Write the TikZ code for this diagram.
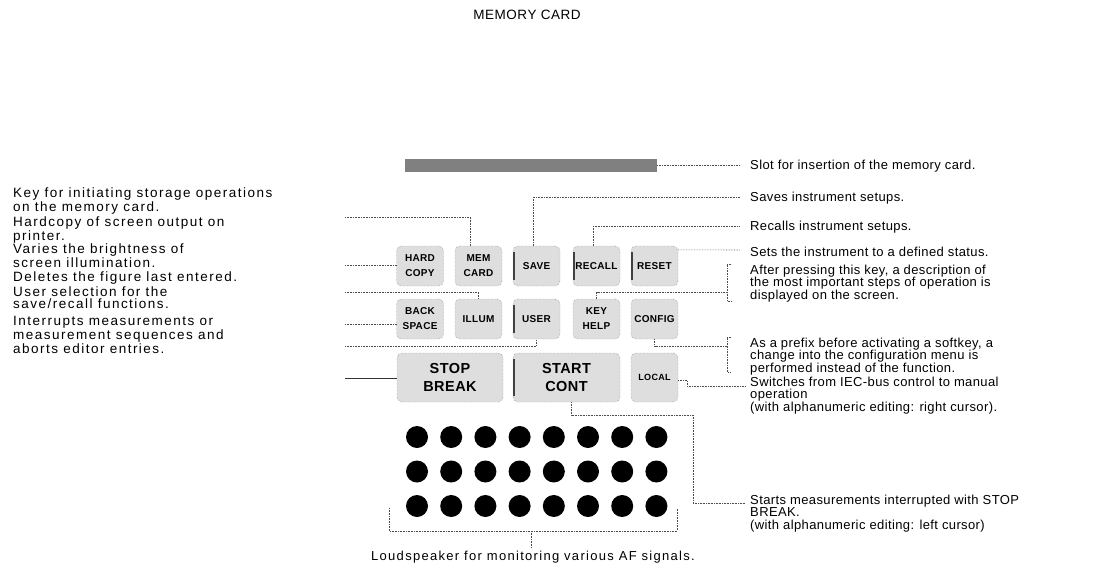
\documentclass[tikz,border=0pt]{standalone}
\usepackage{fontspec}
\setmainfont{Liberation Sans}
\newfontfamily\lfont[LetterSpace=11]{Liberation Sans}
\newfontfamily\sfont[LetterSpace=10]{Liberation Sans}
\newfontfamily\rfont[LetterSpace=3]{Liberation Sans}
\newfontfamily\kfont[LetterSpace=3]{Liberation Sans}
\newfontfamily\tfont[LetterSpace=4]{Liberation Sans}
\usetikzlibrary{calc}
\begin{document}
\begin{tikzpicture}[x=1pt,y=-1pt,
  lefttxt/.style={anchor=north west,inner sep=0pt,align=left,font=\fontsize{13.5}{12.5}\selectfont\lfont},
  righttxt/.style={anchor=north west,inner sep=0pt,align=left,font=\fontsize{13}{12.5}\selectfont\rfont},
  keybox/.style={draw=black!55,densely dotted,fill=black!13,rounded corners=5pt,minimum width=47pt,minimum height=40pt,inner sep=0pt,align=center,font=\fontsize{10}{15}\selectfont\kfont\bfseries,text=black},
  bigkey/.style={keybox,minimum height=49pt,font=\fontsize{14.5}{17.5}\selectfont\kfont\bfseries},
  edgekey/.style={path picture={\draw[black!75,solid,line width=1.3pt] ([xshift=1pt,yshift=6pt]path picture bounding box.south west) -- ([xshift=1pt,yshift=-6pt]path picture bounding box.north west);}},
  conn/.style={draw=black!70,densely dotted,line width=0.6pt},
  solidconn/.style={draw=black!80,line width=0.6pt},
  spk/.style={circle,fill=black,inner sep=0pt,minimum size=22pt}
]
\useasboundingbox (0,0) rectangle (1096,576);

% title
\node[font=\fontsize{13.5}{15}\selectfont\tfont] (title) at (527,15) {MEMORY CARD};

% memory card slot
\node[fill=black!50,inner sep=0pt,minimum width=252pt,minimum height=13pt] (slot) at (531,165) {};

% keys
\node[keybox] (hard) at (420,266) {HARD\\COPY};
\node[keybox] (mem) at (478.5,266) {MEM\\CARD};
\node[keybox,edgekey] (save) at (536.5,266) {SAVE};
\node[keybox,edgekey] (recall) at (596.5,266) {RECALL};
\node[keybox,edgekey] (reset) at (654.5,266) {RESET};
\node[keybox] (back) at (420,319) {BACK\\SPACE};
\node[keybox] (illum) at (478.5,319) {ILLUM};
\node[keybox,edgekey] (user) at (536.5,319) {USER};
\node[keybox] (keyhelp) at (596.5,319) {KEY\\HELP};
\node[keybox] (config) at (654.5,319) {CONFIG};
\node[bigkey,minimum width=106pt] (stop) at (450,377.5) {STOP\\BREAK};
\node[bigkey,edgekey,minimum width=107pt] (start) at (566.5,377.5) {START\\CONT};
\node[keybox,minimum height=49pt,font=\fontsize{9}{12}\selectfont\kfont\bfseries] (local) at (654.5,377.5) {LOCAL};

% loudspeaker
\foreach \i in {0,...,7}{
  \foreach \j in {0,1,2}{
    \node[spk] (d\i\j) at (417+34.2*\i,437+34.5*\j) {};
  }
}

% left texts
\node[lefttxt] (lt1) at (13,187.5) {Key for initiating storage operations\\on the memory card.};
\node[lefttxt] (lt2) at (13,216.5) {Hardcopy of screen output on\\printer.};
\node[lefttxt] (lt3) at (13,243.5) {Varies the brightness of\\screen illumination.};
\node[lefttxt] (lt4) at (13,271.5) {Deletes the figure last entered.};
\node[lefttxt] (lt5) at (13,286.5) {User selection for the\\save/recall functions.};
\node[lefttxt] (lt6) at (13,316.5) {Interrupts measurements or\\measurement sequences and\\aborts editor entries.};

% right texts
\node[righttxt] (rt1) at (750,159.5) {Slot for insertion of the memory card.};
\node[righttxt] (rt2) at (750,191.5) {Saves instrument setups.};
\node[righttxt] (rt3) at (750,220.5) {Recalls instrument setups.};
\node[righttxt] (rt4) at (750,246.5) {Sets the instrument to a defined status.};
\node[righttxt] (rt5) at (750,264.5) {After pressing this key, a description of\\the most important steps of operation is\\displayed on the screen.};
\node[righttxt] (rt6) at (750,337.5) {As a prefix before activating a softkey, a\\change into the configuration menu is\\performed instead of the function.};
\node[righttxt] (rt7) at (750,376.5) {Switches from IEC-bus control to manual\\operation\\(with alphanumeric editing: right cursor).};
\node[righttxt] (rt8) at (750,494.5) {Starts measurements interrupted with STOP\\BREAK.\\(with alphanumeric editing: left cursor)};

\node[font=\fontsize{13}{14}\selectfont\sfont] (spktxt) at (533,557) {Loudspeaker for monitoring various AF signals.};

% left connectors
\coordinate (a1) at (345,217);
\coordinate (a2) at (345,265);
\coordinate (a3) at (345,292);
\coordinate (a4) at (345,324);
\coordinate (a5) at (345,346);
\coordinate (a6) at (345,378);
\draw[conn] (a1) -| ([xshift=-8pt]mem.north);
\draw[conn] (a2) -- (a2 -| hard.west);
\draw[conn] (a3) -| (illum.north);
\draw[conn] (a4) -- (a4 -| back.west);
\draw[conn] (a5) -| (user.south);
\draw[solidconn] (a6) -- (a6 -| stop.west);

% right connectors
\coordinate (r1) at (740,165);
\coordinate (r2) at (740,197);
\coordinate (r3) at (740,226);
\coordinate (r4) at (740,250);
\coordinate (r5) at (727,292);
\coordinate (r6) at (727,346);
\coordinate (r7) at (745,386);
\coordinate (c8) at (693,415);
\coordinate (r8) at (745,503);
\draw[conn] (slot.east) -- (r1);
\draw[conn] ([xshift=-3pt]save.north) |- (r2);
\draw[conn] ([xshift=-3pt]recall.north) |- (r3);
\draw[conn] ([yshift=-4pt]reset.north east) -- (r4);
\draw[conn] (keyhelp.north) |- (r5);
\draw[conn] (731,264) -- (727,264) -- (727,301) -- (731,301);
\draw[conn] (config.south) |- (r6);
\draw[conn] (731,337) -- (727,337) -- (727,372) -- (731,372);
\draw[conn] ([yshift=-3pt]local.east) -- ++(9,0) |- (r7);
\draw[conn] ([xshift=5pt]start.south) |- (c8) |- (r8);

% loudspeaker bracket
\coordinate (sb1) at (389,508);
\coordinate (sb2) at (677,508);
\coordinate (sbt) at (531,531);
\draw[conn] (sb1) -- (389,531) -- (677,531) -- (sb2);
\draw[conn] (sbt) -- (spktxt.north -| sbt);
\end{tikzpicture}
\end{document}
